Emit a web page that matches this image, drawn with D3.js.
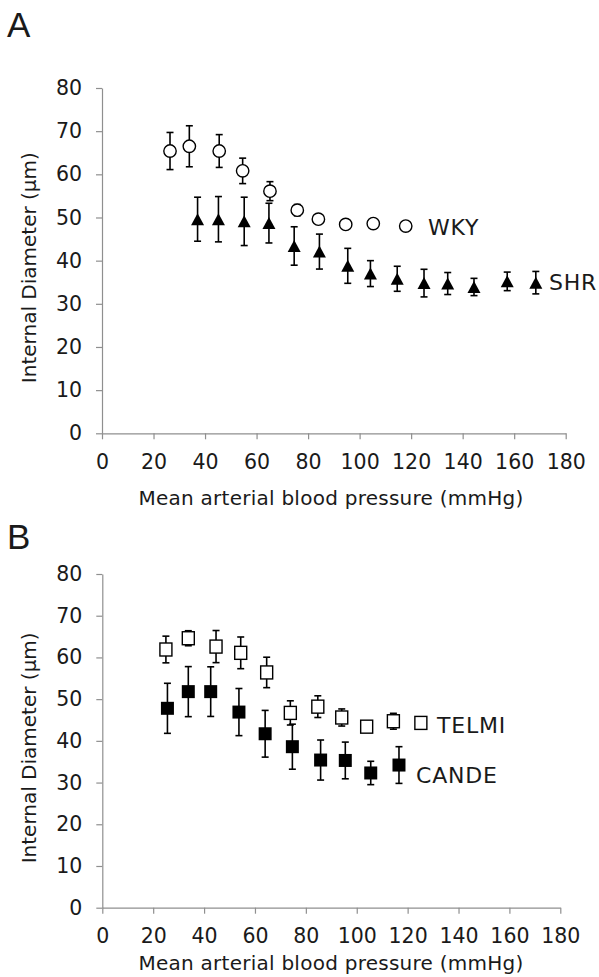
<!DOCTYPE html>
<html>
<head>
<meta charset="utf-8">
<script src="https://cdn.jsdelivr.net/npm/d3@7"></script>
<style>
  html, body { margin: 0; padding: 0; background: #fff; }
  svg { display: block; }
  text { font-family: "DejaVu Sans", Verdana, sans-serif; fill: #1a1a1a; }
</style>
</head>
<body>
<svg id="chart" width="599" height="977"></svg>
<script>
// ---------- Data ----------
const xTicks = [0, 20, 40, 60, 80, 100, 120, 140, 160, 180];
const yTicks = [0, 10, 20, 30, 40, 50, 60, 70, 80];

// Panel A
const wkyX   = [26.4, 33.9, 45.5, 54.6, 65.2, 75.8, 84.0, 94.6, 105.3, 117.9];
const wkyY   = [65.4, 66.5, 65.4, 60.8, 56.1, 51.7, 49.6, 48.4, 48.6, 48.0];
const wkyErr = [4.3, 4.75, 3.8, 2.95, 2.2, 1.3, 0.8, 0.8, 0.8, 0.8];

const shrX   = [37.1, 45.2, 55.2, 64.8, 74.6, 84.4, 95.4, 104.2, 114.6, 125.0, 134.2, 144.4, 157.3, 168.4];
const shrY   = [49.6, 49.6, 49.1, 48.7, 43.4, 42.1, 38.8, 37.0, 35.8, 34.8, 34.7, 33.9, 35.2, 34.9];
const shrErr = [5.1, 5.25, 5.6, 4.6, 4.45, 4.05, 4.05, 3.0, 2.9, 3.2, 2.55, 2.0, 2.15, 2.6];

// Panel B
const telmiX   = [25.0, 33.8, 44.7, 54.4, 64.6, 73.9, 84.7, 94.1, 103.9, 114.4, 125.2];
const telmiY   = [61.9, 64.6, 62.6, 61.1, 56.4, 46.7, 48.2, 45.6, 43.4, 44.7, 44.3];
const telmiErr = [3.2, 1.8, 3.85, 3.8, 3.65, 2.9, 2.6, 2.05, 1.0, 1.9, 1.0];

const candeX   = [25.6, 33.8, 42.6, 53.7, 64.0, 74.7, 85.8, 95.5, 105.5, 116.6];
const candeY   = [47.8, 51.8, 51.8, 46.9, 41.7, 38.6, 35.4, 35.3, 32.3, 34.2];
const candeErr = [6.0, 6.0, 5.95, 5.65, 5.6, 5.4, 4.8, 4.4, 2.8, 4.4];

const xTitle = "Mean arterial blood pressure (mmHg)";
const yTitle = "Internal Diameter (µm)";

// ---------- Drawing ----------
const svg = d3.select("#chart");
const AXIS_COLOR = "#8f8f8f";

function zip(xs, ys, es) { return xs.map((x, i) => ({ x: x, y: ys[i], e: es[i] })); }

function drawPanel(cfg) {
  const x = d3.scaleLinear().domain([0, 180]).range([cfg.x0, cfg.x1]);
  const y = d3.scaleLinear().domain([0, 80]).range([cfg.y0, cfg.y1]);
  const g = svg.append("g");

  // panel letter
  svg.append("text").attr("x", 7).attr("y", cfg.letterY)
    .style("font-family", "'Liberation Sans', Arial, sans-serif")
    .style("font-size", "35px").text(cfg.letter);

  // axes
  const yAxis = d3.axisLeft(y).tickValues(yTicks).tickSize(6).tickSizeOuter(0).tickPadding(14);
  const xAxis = d3.axisBottom(x).tickValues(xTicks).tickSize(6).tickSizeOuter(0).tickPadding(15);

  const gy = g.append("g").attr("transform", `translate(${cfg.x0},0)`).call(yAxis);
  const gx = g.append("g").attr("transform", `translate(0,${cfg.y0})`).call(xAxis);
  [gx, gy].forEach(a => {
    a.select(".domain").attr("stroke", AXIS_COLOR).attr("stroke-width", 1.2);
    a.selectAll(".tick line").attr("stroke", AXIS_COLOR).attr("stroke-width", 1.2);
    a.selectAll(".tick text").style("font-family", "'DejaVu Sans', Verdana, sans-serif")
      .style("font-size", "20.5px").attr("fill", "#1a1a1a");
  });

  // axis titles
  g.append("text").attr("x", 331).attr("y", cfg.y0 + cfg.titleOffset).attr("text-anchor", "middle")
    .style("font-size", "20px").style("letter-spacing", "0.25px").text(xTitle);
  g.append("text").attr("transform", `translate(36,${(cfg.y0 + cfg.y1) / 2 + 7}) rotate(-90)`)
    .attr("text-anchor", "middle").style("font-size", "20px").text(yTitle);

  // series
  cfg.series.forEach(s => {
    const data = zip(s.xs, s.ys, s.es);
    const sg = g.append("g");
    const eb = sg.append("g").attr("stroke", "#000").attr("stroke-width", 1.6);
    data.forEach(d => {
      const cx = x(d.x), top = y(d.y + d.e), bot = y(d.y - d.e);
      eb.append("line").attr("x1", cx).attr("x2", cx).attr("y1", top).attr("y2", bot);
      eb.append("line").attr("x1", cx - 3.5).attr("x2", cx + 3.5).attr("y1", top).attr("y2", top);
      eb.append("line").attr("x1", cx - 3.5).attr("x2", cx + 3.5).attr("y1", bot).attr("y2", bot);
    });
    const mk = sg.append("g");
    data.forEach(d => {
      const cx = x(d.x), cy = y(d.y);
      if (s.shape === "circle") {
        mk.append("circle").attr("cx", cx).attr("cy", cy).attr("r", 6.2)
          .attr("fill", "#fff").attr("stroke", "#000").attr("stroke-width", 1.4);
      } else if (s.shape === "triangle") {
        const w = 13, h = 12;
        mk.append("path").attr("d", `M${cx},${cy - h / 2}L${cx + w / 2},${cy + h / 2}L${cx - w / 2},${cy + h / 2}Z`)
          .attr("fill", "#000");
      } else if (s.shape === "square-open") {
        mk.append("rect").attr("x", cx - 6).attr("y", cy - 6.5).attr("width", 12).attr("height", 13)
          .attr("fill", "#fff").attr("stroke", "#000").attr("stroke-width", 1.4);
      } else if (s.shape === "square-filled") {
        mk.append("rect").attr("x", cx - 6.5).attr("y", cy - 6.5).attr("width", 13).attr("height", 13)
          .attr("fill", "#000");
      }
    });
    g.append("text").attr("x", s.labelX).attr("y", s.labelY)
      .style("font-size", "22px").style("letter-spacing", "0.8px").text(s.name);
  });
}

drawPanel({
  letter: "A", letterY: 37, titleOffset: 72,
  x0: 102, x1: 565.7, y0: 433.3, y1: 88,
  series: [
    { name: "WKY", shape: "circle", xs: wkyX, ys: wkyY, es: wkyErr, labelX: 428, labelY: 235 },
    { name: "SHR", shape: "triangle", xs: shrX, ys: shrY, es: shrErr, labelX: 549, labelY: 290 }
  ]
});

drawPanel({
  letter: "B", letterY: 549, titleOffset: 62,
  x0: 102.3, x1: 560.3, y0: 907.7, y1: 574,
  series: [
    { name: "TELMI", shape: "square-open", xs: telmiX, ys: telmiY, es: telmiErr, labelX: 437, labelY: 733 },
    { name: "CANDE", shape: "square-filled", xs: candeX, ys: candeY, es: candeErr, labelX: 416, labelY: 783 }
  ]
});
</script>
</body>
</html>
